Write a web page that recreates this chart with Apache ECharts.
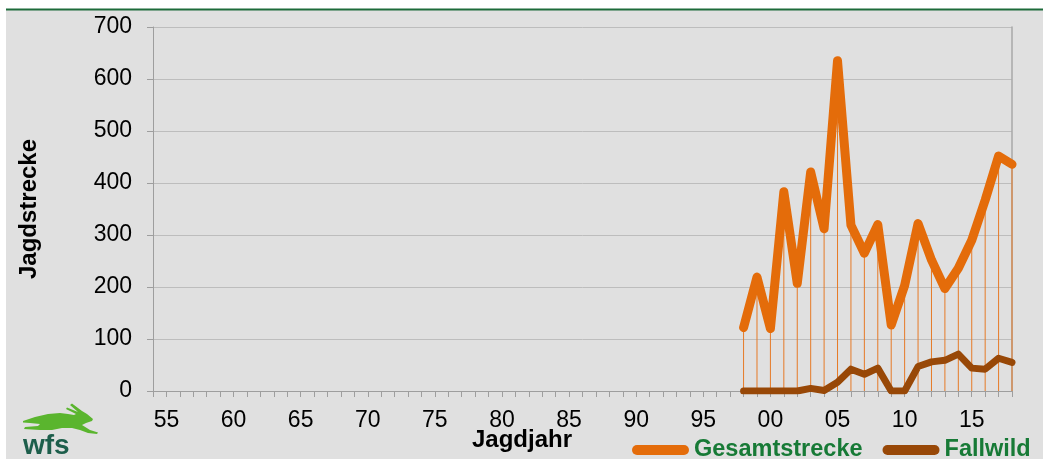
<!DOCTYPE html>
<html>
<head>
<meta charset="utf-8">
<script src="https://cdn.jsdelivr.net/npm/echarts@6/dist/echarts.min.js"></script>
<style>
html,body{margin:0;padding:0;background:#fff;}
#c{width:1043px;height:462px;}
</style>
</head>
<body>
<div id="c"></div>
<script>
var categories = ['1954','1955','1956','1957','1958','1959','1960','1961','1962','1963','1964','1965','1966','1967','1968','1969','1970','1971','1972','1973','1974','1975','1976','1977','1978','1979','1980','1981','1982','1983','1984','1985','1986','1987','1988','1989','1990','1991','1992','1993','1994','1995','1996','1997','1998','1999','2000','2001','2002','2003','2004','2005','2006','2007','2008','2009','2010','2011','2012','2013','2014','2015','2016','2017','2018'];
var dataYears = ['1998','1999','2000','2001','2002','2003','2004','2005','2006','2007','2008','2009','2010','2011','2012','2013','2014','2015','2016','2017','2018'];
var gesamtstrecke = [122, 219, 120, 383, 207, 421, 312, 635, 319, 265, 320, 127, 203, 322, 252, 197, 236, 290, 367, 452, 436];
var fallwild = [0, 0, 0, 0, 0, 5, 1, 17, 42, 32, 44, 0, 0, 47, 56, 59, 71, 44, 42, 63, 55];
var yTicks = [0, 100, 200, 300, 400, 500, 600, 700];

function pairs(vals){ return dataYears.map(function(y,i){ return [y, vals[i]]; }); }

var FONT = '"Liberation Sans", Arial, sans-serif';
var chart = echarts.init(document.getElementById('c'), null, {renderer:'canvas'});
chart.setOption({
  backgroundColor: '#ffffff',
  animation: false,
  textStyle: {fontFamily: FONT},
  grid: {left: 153, right: 31, top: 27, bottom: 71, containLabel: false},
  legend: {
    left: 627, top: 433,
    data: ['Gesamtstrecke', 'Fallwild'],
    itemWidth: 57, itemHeight: 10, itemGap: 20,
    icon: 'path://M5,0 L52,0 A5,5 0 0 1 52,10 L5,10 A5,5 0 0 1 5,0 Z',
    selectedMode: false,
    textStyle: {fontFamily: FONT, fontSize: 23.5, fontWeight: 'bold', color: '#177A36', lineHeight: 24}
  },
  xAxis: {
    type: 'category', data: categories, boundaryGap: false,
    axisLine: {lineStyle: {color: '#9e9e9e', width: 1}},
    axisTick: {show: true, interval: 0, length: 6, lineStyle: {color: '#9e9e9e'}},
    axisLabel: {
      interval: function(i, v){ return Number(v) % 5 === 0; },
      formatter: function(v){ return v.slice(2); },
      margin: 18, fontSize: 23, color: '#000', fontFamily: FONT
    },
    splitLine: {show: false}
  },
  yAxis: [{
    type: 'value', min: yTicks[0], max: yTicks[yTicks.length-1], interval: 100,
    name: 'Jagdstrecke', nameLocation: 'middle', nameRotate: 90, nameGap: 112,
    nameTextStyle: {fontFamily: FONT, fontSize: 24, fontWeight: 'bold', color: '#000'},
    axisLine: {show: true, lineStyle: {color: '#9e9e9e'}},
    axisTick: {show: true, length: 6, lineStyle: {color: '#9e9e9e'}},
    axisLabel: {margin: 21, fontSize: 23, color: '#000', fontFamily: FONT},
    splitLine: {lineStyle: {color: '#bdbdbd', width: 1}}
  }, {
    type: 'value', position: 'right', min: yTicks[0], max: yTicks[yTicks.length-1], interval: 100,
    axisLine: {show: true, lineStyle: {color: '#a8a8a8', width: 1.5}},
    axisTick: {show: false}, axisLabel: {show: false}, splitLine: {show: false}
  }],
  graphic: [
    {type: 'rect', z: -100, silent: true, shape: {x: 6, y: 10, width: 1037, height: 449}, style: {fill: '#e0e0e0'}},
    {type: 'rect', z: -99, silent: true, shape: {x: 6, y: 8.5, width: 1037, height: 2}, style: {fill: '#1d6b3a'}},
    {type: 'text', x: 522, y: 440, style: {text: 'Jagdjahr', fontFamily: FONT, fontSize: 24, fontWeight: 'bold', fill: '#000', align: 'center', verticalAlign: 'middle'}},
    {type: 'text', x: 23, y: 446.5, style: {text: 'wfs', fontFamily: FONT, fontSize: 28, fontWeight: 'bold', fill: '#1d5e4b', align: 'left', verticalAlign: 'middle'}},
    {type: 'polygon', silent: true,
     shape: {points: [[23,421],[35,417],[48,414],[60,413],[68,414],[74,415],[76,414],[66,409],[67,407.5],[78,412],[70,405],[72,403.5],[82,411],[87,414],[93,419],[92,421],[86,423],[82,425],[90,430],[98,432.5],[97,434],[88,433],[80,430],[72,428],[62,428],[52,430],[40,430],[24,429],[25,427],[38,426],[40,424],[30,423],[23,422.5]]},
     style: {fill: '#5ab52e'}}
  ],
  series: [
    {name: 'drop', type: 'bar', data: pairs(gesamtstrecke), barWidth: 1, itemStyle: {color: '#e67a26'}, silent: true, z: 1},
    {name: 'Gesamtstrecke', type: 'line', data: pairs(gesamtstrecke), showSymbol: false, symbol: 'none',
     lineStyle: {color: '#E46C0A', width: 9, cap: 'round', join: 'round'}, itemStyle: {color: '#E46C0A'}, z: 3},
    {name: 'Fallwild', type: 'line', data: pairs(fallwild), showSymbol: false, symbol: 'none',
     lineStyle: {color: '#984807', width: 7, cap: 'round', join: 'round'}, itemStyle: {color: '#984807'}, z: 4}
  ]
});
</script>
</body>
</html>
